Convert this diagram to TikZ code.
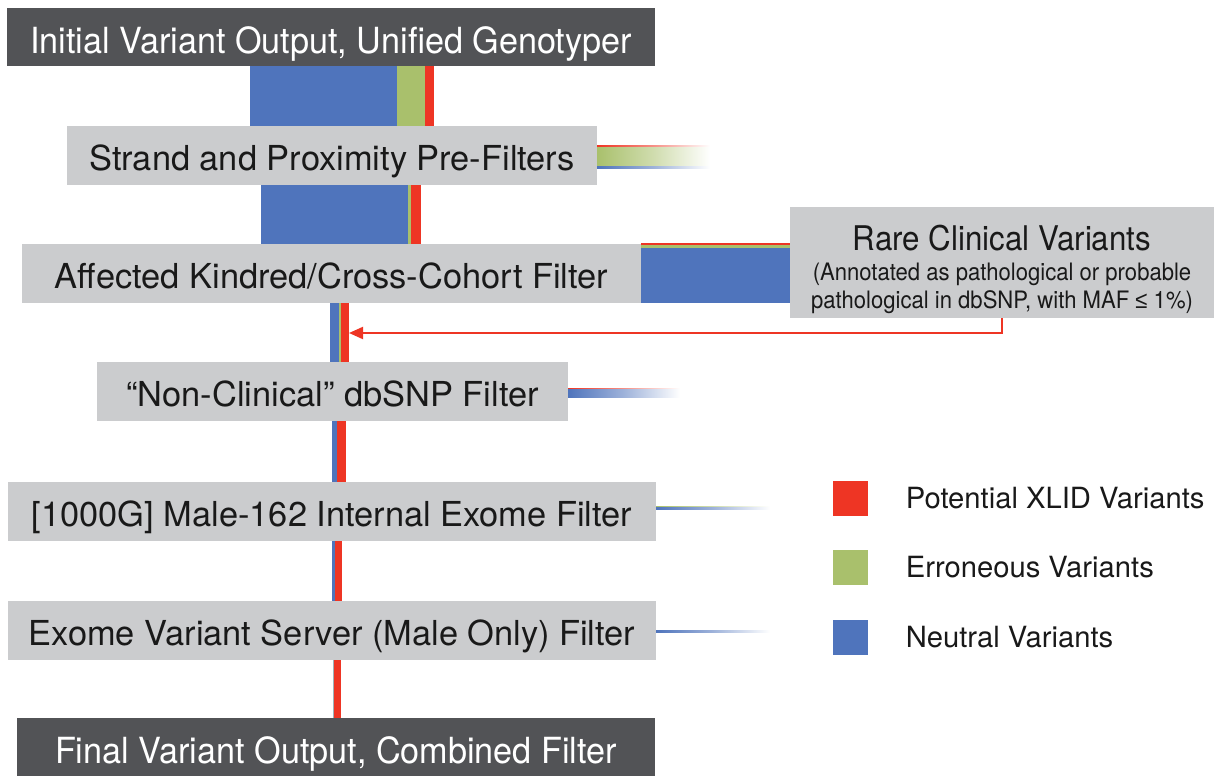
\documentclass[tikz,border=0pt]{standalone}
\usepackage{fontspec}
\setmainfont{TeX Gyre Heros}
\newfontfamily\barfont[FakeStretch=0.95]{TeX Gyre Heros}
\newfontfamily\notefont[FakeStretch=0.92]{TeX Gyre Heros}
\newfontfamily\symfont[FakeStretch=0.92]{Liberation Sans}
\usetikzlibrary{arrows.meta,positioning}
\definecolor{neutralblue}{RGB}{79,116,188}
\definecolor{errgreen}{RGB}{169,192,108}
\definecolor{xlidred}{RGB}{238,53,36}
\definecolor{boxgray}{RGB}{203,204,206}
\definecolor{bardark}{RGB}{82,83,86}
\definecolor{ink}{RGB}{25,25,25}

\begin{document}
\begin{tikzpicture}[
  x=0.5pt, y=-0.5pt,
  gbox/.style={fill=boxgray, inner sep=0pt, minimum height=29.5pt, text=ink,
               text height=14.5pt, text depth=0pt,
               font=\fontsize{17.2}{20}\selectfont},
  dbar/.style={fill=bardark, inner sep=0pt, minimum height=29pt, text=white,
               text height=16pt, text depth=0pt,
               font=\barfont\fontsize{18}{20}\selectfont},
  fadeband/.style={left color=#1, right color=white, middle color=#1!55},
  key/.style={minimum size=17.5pt, inner sep=0pt},
  keylab/.style={text=ink, inner sep=0pt, font=\fontsize{14.6}{17}\selectfont},
  arr/.style={-{Triangle[length=7pt,width=6pt]}, draw=xlidred, line width=1pt}]
\useasboundingbox (0,0) rectangle (1214,776);

% Filter stages
\node[dbar, minimum width=324pt] (init) at (331,37) {Initial Variant Output, Unified Genotyper};
\node[gbox, minimum width=265pt] (strand) at (332,155.5) {Strand and Proximity Pre-Filters};
\node[gbox, minimum width=309.5pt] (kindred) at (331.5,273.5) {Affected Kindred/Cross-Cohort Filter};
\node[gbox, minimum width=235.5pt] (nonclin) at (332.5,391.5) {``Non-Clinical'' dbSNP Filter};
\node[gbox, minimum width=324pt] (kgmale) at (332,511.5) {[1000G] Male-162 Internal Exome Filter};
\node[gbox, minimum width=324pt] (evs) at (332,630.5) {Exome Variant Server (Male Only) Filter};
\node[dbar, minimum width=319pt] (final) at (336,747) {Final Variant Output, Combined Filter};

% Rare clinical branch
\node[gbox, minimum width=212pt, minimum height=55.5pt] (rare) at (1002,262.5) {};
\node[align=center, inner sep=0pt, text=ink,
      font=\notefont\fontsize{12}{14}\selectfont] (raretxt) at (1002,269)
      {{\fontsize{17}{20}\selectfont Rare Clinical Variants}\\[1pt]
       (Annotated as pathological or probable\\
       pathological in dbSNP, with MAF {\symfont ≤} 1\%)};

% Flows between stages
\fill[neutralblue] (250,66) rectangle (397,126);
\fill[errgreen] (397,66) rectangle (425,126);
\fill[xlidred] (425,66) rectangle (434,126);
\fill[neutralblue] (261,185) rectangle (408,244);
\fill[errgreen] (408,185) rectangle (411,244);
\fill[xlidred] (411,185) rectangle (421,244);
\fill[neutralblue] (330,303) rectangle (339,362);
\fill[errgreen] (339,303) rectangle (341,362);
\fill[xlidred] (341,303) rectangle (349,362);
\fill[neutralblue] (332,421) rectangle (337,482);
\fill[xlidred] (337,421) rectangle (346,482);
\fill[neutralblue] (332,541) rectangle (335,601);
\fill[xlidred] (335,541) rectangle (342,601);
\fill[neutralblue!60!errgreen!70] (332.5,660) rectangle (334,718);
\fill[xlidred] (334,660) rectangle (341,718);

% Removed variants
\shade[fadeband=xlidred] (597,145) rectangle (710,147);
\shade[fadeband=errgreen] (597,147) rectangle (710,166);
\shade[fadeband=neutralblue] (597,166) rectangle (710,168);
\fill[xlidred] (641,243) rectangle (790,245);
\fill[errgreen] (641,245) rectangle (790,248);
\fill[neutralblue] (641,248) rectangle (790,303);
\shade[fadeband=xlidred] (568,388) rectangle (680,389.5);
\shade[fadeband=neutralblue] (568,389.5) rectangle (680,397);
\shade[fadeband=errgreen] (656,506) rectangle (770,507.5);
\shade[fadeband=neutralblue] (656,507.5) rectangle (770,509.5);
\shade[fadeband=neutralblue] (656,630) rectangle (770,632);

% Re-entry of rare clinical variants
\coordinate (reentry) at (349,333);
\draw[arr] (rare.south) |- (reentry);

% Legend
\node[key, fill=xlidred] (kred) at (850.5,498.5) {};
\node[key, fill=errgreen] (kgreen) at (850.5,567.5) {};
\node[key, fill=neutralblue] (kblue) at (850.5,637.5) {};
\node[keylab, right=18.5pt of kred] (lred) {Potential XLID Variants};
\node[keylab, right=18.5pt of kgreen] (lgreen) {Erroneous Variants};
\node[keylab, right=18.5pt of kblue] (lblue) {Neutral Variants};
\end{tikzpicture}
\end{document}
